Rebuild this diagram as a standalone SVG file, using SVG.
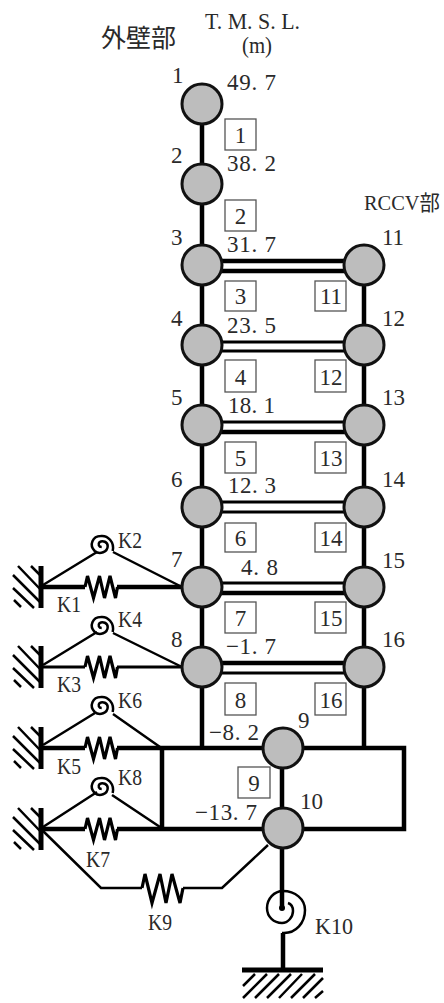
<svg xmlns="http://www.w3.org/2000/svg" width="444" height="1003" viewBox="0 0 444 1003">
<style>
text{font-family:"Liberation Serif","Noto Sans CJK JP",serif;font-size:23px;fill:#2a2a2a}
.c{text-anchor:middle}
.n circle{fill:#bdbdbd;stroke:#111;stroke-width:3}
.l{fill:none;stroke:#000;stroke-width:4.5}
.m{fill:none;stroke:#000;stroke-width:3.2}
.t{fill:none;stroke:#000;stroke-width:2.5}
.b{fill:#fff;stroke:#555;stroke-width:1.3}
</style>
<defs>
<path id="sp" d="M-16 0L-13.5-11L-7.5 11L-1.5-11L3.5 11L9-11L14.5 11L16.5 0" class="m"/>
<g id="wall"><path d="M0-21V21" stroke="#000" stroke-width="5"/><path d="M-10-21L0-11M-23-21L0 3M-28-12L0 16M-28 1L-7 21M-27 13L-20 20" class="t"/></g>
<path id="sw" d="M11 5C13-4 6-11-1-10C-9-10-13-1-7 5C-2 9 6 6 6 0C6-4 1-6-2-4C-4-2-3 1 0 1" class="t"/>
</defs>
<g id="connectors">
<path class="l" d="M202 104V748M364 265V748M162 748H404V829H162V748M282 748V908M41 748H85M117 748H162M41 829H85M117 829H162"/>
<path class="l" d="M41 587H85M117 587H185"/>
<path class="m" d="M41 667H85M117 667H185"/>
<path class="l" d="M202 261H364M202 271H364"/>
<path class="m" d="M202 342H364M202 351H364M202 422H364M202 502H364M202 512H364M202 583H364M202 673H364"/>
<path class="l" d="M202 432H364M202 593H364M202 663H364"/>
<path class="t" d="M43 585L97 552M113 552L182 587M43 665L97 632M113 633L182 667M43 745L95 713M113 714L160 747M43 827L97 792M112 795L160 827M41 829L101 888H142M183 888H222L268 845"/>
<use href="#sp" x="101" y="587"/><use href="#sp" x="101" y="667"/><use href="#sp" x="101" y="748"/><use href="#sp" x="101" y="829"/>
<path class="m" d="M142 888L145 874L152 903L160 874L166 903L172 874L180 903L183 888"/>
<use href="#sw" x="101.7" y="546"/><use href="#sw" x="101.7" y="627"/><use href="#sw" x="101.7" y="707"/><use href="#sw" x="101.7" y="788"/>
<path class="t" d="M282 933H284C296 933 305 923 305 910C305 899 295 891 283 891C274 891 267 899 267 908C267 917 274 923 282 923C288 923 293 917 293 911C293 907 291 904 288 903"/>
<circle cx="282" cy="908" r="3" fill="#000"/>
<path class="l" d="M283 933V970"/>
<path d="M242 970H323" stroke="#000" stroke-width="5"/>
<path class="t" d="M243 986L255 974M243 998L267 974M255 998L279 974M267 998L291 974M279 998L302 974M291 998L315 974M303 998L323 978M315 998L323 991"/>
<use href="#wall" x="41" y="587"/><use href="#wall" x="41" y="667"/><use href="#wall" x="41" y="748"/><use href="#wall" x="41" y="829"/>
</g>
<g class="n">
<g id="n1"><circle cx="202" cy="104" r="20"/><text x="172" y="83">1</text><text x="227" y="90" textLength="49">49. 7</text></g>
<g id="n2"><circle cx="202" cy="184" r="20"/><text x="171" y="163">2</text><text x="227" y="171" textLength="49">38. 2</text></g>
<g id="n3"><circle cx="202" cy="265" r="20"/><text x="171" y="245">3</text><text x="227" y="252" textLength="49">31. 7</text></g>
<g id="n4"><circle cx="202" cy="345" r="20"/><text x="171" y="326">4</text><text x="227" y="333" textLength="49">23. 5</text></g>
<g id="n5"><circle cx="202" cy="425" r="20"/><text x="171" y="405">5</text><text x="228" y="413" textLength="47">18. 1</text></g>
<g id="n6"><circle cx="202" cy="507" r="20"/><text x="171" y="487">6</text><text x="228" y="493" textLength="48">12. 3</text></g>
<g id="n7"><circle cx="202" cy="587" r="20"/><text x="171" y="567">7</text><text x="241" y="575" textLength="37">4. 8</text></g>
<g id="n8"><circle cx="202" cy="667" r="20"/><text x="171" y="647">8</text><text x="226" y="654" textLength="50">−1. 7</text></g>
<g id="n9"><circle cx="283" cy="748" r="20"/><text x="209" y="740" textLength="50">−8. 2</text><text x="298" y="728">9</text></g>
<g id="n10"><circle cx="283" cy="828" r="20"/><text x="195" y="820" textLength="62">−13. 7</text><text x="300" y="809" textLength="23">10</text></g>
<g id="n11"><circle cx="364" cy="265" r="20"/><text x="382" y="245" textLength="22">11</text></g>
<g id="n12"><circle cx="364" cy="345" r="20"/><text x="382" y="326" textLength="23">12</text></g>
<g id="n13"><circle cx="364" cy="425" r="20"/><text x="382" y="405" textLength="23">13</text></g>
<g id="n14"><circle cx="364" cy="507" r="20"/><text x="382" y="487" textLength="23">14</text></g>
<g id="n15"><circle cx="364" cy="587" r="20"/><text x="382" y="568" textLength="23">15</text></g>
<g id="n16"><circle cx="364" cy="667" r="20"/><text x="382" y="647" textLength="23">16</text></g>
</g>
<g id="boxes">
<rect class="b" x="225" y="119" width="31" height="31"/><text class="c" x="240.5" y="143">1</text>
<rect class="b" x="225" y="200" width="31" height="31"/><text class="c" x="240.5" y="224">2</text>
<rect class="b" x="225" y="281" width="31" height="30"/><text class="c" x="240.5" y="304">3</text>
<rect class="b" x="225" y="360" width="31" height="32"/><text class="c" x="240.5" y="385">4</text>
<rect class="b" x="225" y="442" width="31" height="31"/><text class="c" x="240.5" y="466">5</text>
<rect class="b" x="225" y="523" width="31" height="29"/><text class="c" x="240.5" y="546">6</text>
<rect class="b" x="225" y="602" width="31" height="31"/><text class="c" x="240.5" y="626">7</text>
<rect class="b" x="225" y="683" width="31" height="32"/><text class="c" x="240.5" y="708">8</text>
<rect class="b" x="238" y="767" width="32" height="31"/><text class="c" x="254" y="791">9</text>
<rect class="b" x="315" y="281" width="31" height="30"/><text class="c" x="331" y="304" textLength="22">11</text>
<rect class="b" x="315" y="360" width="31" height="32"/><text class="c" x="331" y="385" textLength="23">12</text>
<rect class="b" x="315" y="442" width="31" height="31"/><text class="c" x="331" y="466" textLength="23">13</text>
<rect class="b" x="315" y="523" width="31" height="29"/><text class="c" x="331" y="546" textLength="23">14</text>
<rect class="b" x="315" y="602" width="31" height="31"/><text class="c" x="331" y="626" textLength="23">15</text>
<rect class="b" x="315" y="683" width="31" height="32"/><text class="c" x="331" y="708" textLength="23">16</text>
</g>
<g id="labels">
<text x="101" y="47" style="font-size:25px">外壁部</text>
<text x="205" y="29" textLength="95" lengthAdjust="spacingAndGlyphs">T. M. S. L.</text>
<text x="242" y="53" textLength="30" lengthAdjust="spacingAndGlyphs">(m)</text>
<text x="364" y="210" style="font-size:21px" textLength="76" lengthAdjust="spacingAndGlyphs">RCCV部</text>
<text x="118" y="548" textLength="24" lengthAdjust="spacingAndGlyphs">K2</text>
<text x="57" y="612" textLength="24" lengthAdjust="spacingAndGlyphs">K1</text>
<text x="118" y="627" textLength="24" lengthAdjust="spacingAndGlyphs">K4</text>
<text x="57" y="692" textLength="24" lengthAdjust="spacingAndGlyphs">K3</text>
<text x="118" y="708" textLength="24" lengthAdjust="spacingAndGlyphs">K6</text>
<text x="57" y="774" textLength="24" lengthAdjust="spacingAndGlyphs">K5</text>
<text x="118" y="785" textLength="24" lengthAdjust="spacingAndGlyphs">K8</text>
<text x="86" y="867" textLength="24" lengthAdjust="spacingAndGlyphs">K7</text>
<text x="148" y="930" textLength="24" lengthAdjust="spacingAndGlyphs">K9</text>
<text x="315" y="934" textLength="38" lengthAdjust="spacingAndGlyphs">K10</text>
</g>
</svg>
